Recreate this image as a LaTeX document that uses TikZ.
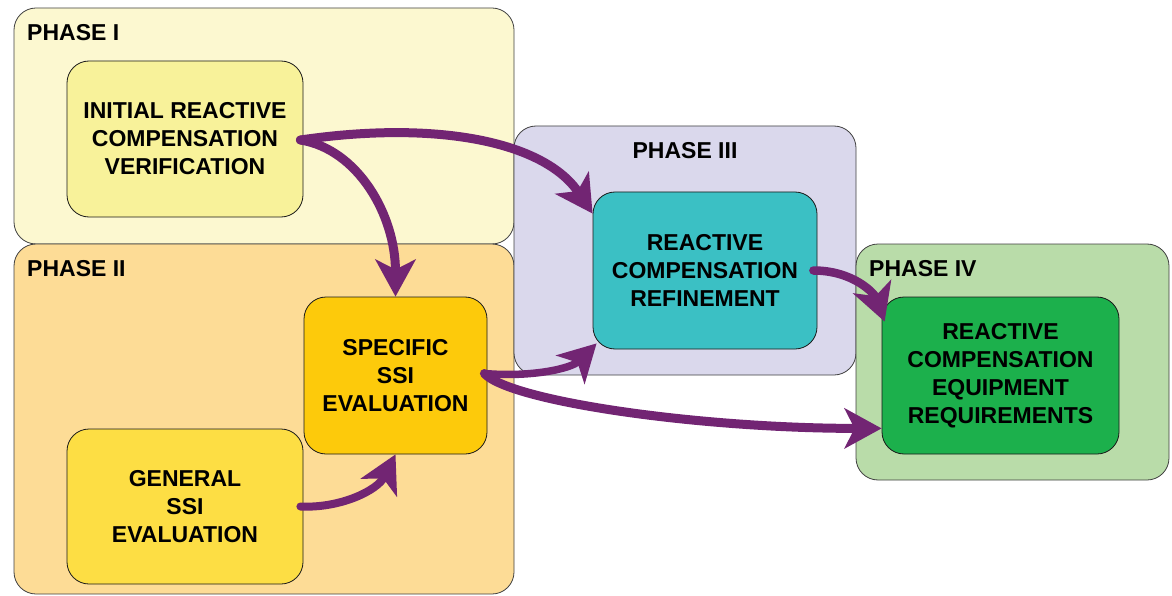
\documentclass[tikz,border=0pt]{standalone}
\usepackage{fontspec}
\setmainfont{Liberation Sans}
\usetikzlibrary{arrows.meta,calc}
\definecolor{phIfill}{HTML}{FCF8D0}
\definecolor{phIIfill}{HTML}{FDDC96}
\definecolor{phIIIfill}{HTML}{DAD8EC}
\definecolor{phIVfill}{HTML}{B9DCA9}
\definecolor{initfill}{HTML}{F8F29A}
\definecolor{specfill}{HTML}{FDCA0B}
\definecolor{genfill}{HTML}{FDDE44}
\definecolor{refinefill}{HTML}{3BC0C4}
\definecolor{equipfill}{HTML}{1CB04C}
\definecolor{arrowc}{HTML}{722573}
\begin{document}
\begin{tikzpicture}[x=1pt,y=-1pt,
  phase/.style={draw=black!75, line width=0.8pt, rounded corners=22pt, rectangle, inner sep=0pt},
  stage/.style={draw=black!90, line width=0.8pt, rounded corners=22pt, rectangle, inner sep=0pt,
    align=center, font=\fontsize{23}{28}\selectfont\bfseries},
  lbl/.style={font=\fontsize{23}{28}\selectfont\bfseries, inner sep=0pt},
  flow/.style={draw=arrowc, line width=9pt, line cap=round,
    -{Stealth[length=37pt,width=40pt,inset=10pt,fill=arrowc]}}
]
\useasboundingbox (0,0) rectangle (1172,596);
% phases
\node[phase, fill=phIfill, minimum width=500pt, minimum height=236pt] (p1) at (264,126) {};
\node[phase, fill=phIIfill, minimum width=500pt, minimum height=350pt] (p2) at (264,419) {};
\node[phase, fill=phIIIfill, minimum width=342pt, minimum height=249pt] (p3) at (685,250.5) {};
\node[phase, fill=phIVfill, minimum width=313pt, minimum height=236pt] (p4) at (1012.5,362) {};
\node[lbl, anchor=west] (l1) at (27,33) {PHASE I};
\node[lbl, anchor=west] (l2) at (27,269) {PHASE II};
\node[lbl] (l3) at (685,151) {PHASE III};
\node[lbl, anchor=west] (l4) at (869,269) {PHASE IV};
% stages
\node[stage, fill=initfill, minimum width=236pt, minimum height=156pt] (init) at (185,139)
  {INITIAL REACTIVE\\COMPENSATION\\VERIFICATION};
\node[stage, fill=specfill, minimum width=183pt, minimum height=157pt] (spec) at (395.5,375.5)
  {SPECIFIC\\SSI\\EVALUATION};
\node[stage, fill=genfill, minimum width=236pt, minimum height=155pt] (gen) at (185,506.5)
  {GENERAL\\SSI\\EVALUATION};
\node[stage, fill=refinefill, minimum width=224pt, minimum height=157pt] (refine) at (705,270.5)
  {REACTIVE\\COMPENSATION\\REFINEMENT};
\node[stage, fill=equipfill, minimum width=237pt, minimum height=157pt] (equip) at (1000.5,375.5)
  {REACTIVE\\COMPENSATION\\EQUIPMENT\\REQUIREMENTS};
% connectors
\draw[flow] ($(init.east)+(-3,1)$) .. controls +(137,-20) and +(-48,-72) .. ($(refine.north west)+(0,22)$);
\draw[flow] ($(init.east)+(-3,1)$) .. controls +(57,9) and +(0,-82) .. (spec.north);
\draw[flow, line width=8pt] ($(gen.east)+(-3,0)$) .. controls +(40,2) and +(-18,36) .. (spec.south);
\draw[flow, line width=7.5pt] ($(spec.east)+(-3,-2)$) .. controls +(48,4) and +(-25,25) .. ($(refine.south west)+(4,-6)$);
\draw[flow] ($(spec.east)+(-3,-2)$) .. controls +(26,28) and +(-182,0) .. ($(equip.south west)+(0,-26)$);
\draw[flow, line width=8.5pt] ($(refine.east)+(-4,0)$) .. controls +(40,0) and +(-10,-28) .. ($(equip.north west)+(3,25)$);
\end{tikzpicture}
\end{document}
